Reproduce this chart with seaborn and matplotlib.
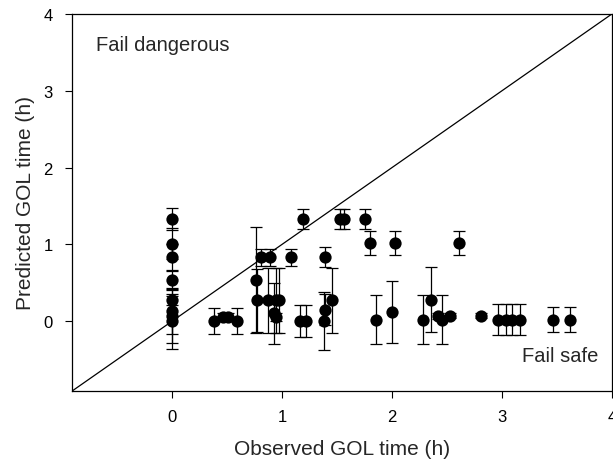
import matplotlib
matplotlib.use("Agg")
import matplotlib.pyplot as plt
import seaborn as sns
import pandas as pd

# Observed GOL time (h)
observed = [0, 0, 0, 0, 0, 0, 0, 0,
            0.38, 0.46, 0.51, 0.59,
            0.76, 0.77, 0.81, 0.89, 1.08, 0.875, 0.94, 0.97, 0.925, 0.945,
            1.19, 1.16, 1.22, 1.39, 1.38, 1.39, 1.45,
            1.53, 1.56, 1.75, 1.80, 2.03, 1.85, 2.00,
            2.28, 2.35, 2.42, 2.45, 2.53, 2.61, 2.81,
            2.96, 3.04, 3.09, 3.16, 3.46, 3.62]
# Predicted GOL time (h)
predicted = [1.33, 1.01, 0.83, 0.54, 0.27, 0.13, 0.07, 0.0,
             0.0, 0.06, 0.06, 0.0,
             0.54, 0.27, 0.83, 0.83, 0.83, 0.27, 0.27, 0.27, 0.10, 0.05,
             1.33, 0.0, 0.0, 0.83, 0.0, 0.15, 0.27,
             1.33, 1.33, 1.33, 1.02, 1.02, 0.02, 0.12,
             0.02, 0.28, 0.07, 0.02, 0.07, 1.02, 0.07,
             0.02, 0.02, 0.02, 0.02, 0.02, 0.02]
# Error (+/-)
error = [0.14, 0.20, 0.18, 0.13, 0.06, 0.30, 0.35, 0.36,
         0.17, 0.04, 0.04, 0.17,
         0.69, 0.41, 0.11, 0.11, 0.11, 0.42, 0.42, 0.42, 0.40, 0.05,
         0.13, 0.21, 0.21, 0.13, 0.38, 0.20, 0.42,
         0.13, 0.13, 0.13, 0.16, 0.16, 0.32, 0.40,
         0.32, 0.42, 0.04, 0.32, 0.03, 0.16, 0.03,
         0.20, 0.20, 0.20, 0.20, 0.16, 0.16]

df = pd.DataFrame({"obs": observed, "pred": predicted, "err": error})

sns.set_style("ticks")
plt.rcParams["font.family"] = ["Liberation Sans", "DejaVu Sans"]

fig = plt.figure(figsize=(6.13, 4.64), dpi=100)
ax = fig.add_axes([0.1175, 0.155, 0.881, 0.813])

ax.axline((0, 0), slope=1, color="black", lw=0.9, zorder=1)
ax.errorbar(df["obs"], df["pred"], yerr=df["err"], fmt="none",
            ecolor="black", elinewidth=0.9, capsize=4.3, capthick=0.9, zorder=2)
sns.scatterplot(data=df, x="obs", y="pred", ax=ax, color="black",
                s=78, edgecolor="black", linewidth=0, zorder=3, legend=False)

ax.set_xlim(-0.91, 4)
ax.set_ylim(-0.91, 4)
ax.set_xticks([0, 1, 2, 3, 4])
ax.set_yticks([0, 1, 2, 3, 4])
ax.tick_params(direction="out", length=5, width=0.8, labelsize=12, colors="black")
ax.tick_params(axis="x", pad=8)
ax.tick_params(axis="y", pad=9)
for s in ax.spines.values():
    s.set_visible(True)
    s.set_color("black")
    s.set_linewidth(0.9)

ax.set_xlabel("Observed GOL time (h)", fontsize=15, labelpad=11)
ax.set_ylabel("Predicted GOL time (h)", fontsize=15, labelpad=6)

ax.text(0.045, 0.918, "Fail dangerous", transform=ax.transAxes,
        fontsize=14.5, ha="left", va="center")
ax.text(0.975, 0.095, "Fail safe", transform=ax.transAxes,
        fontsize=14.5, ha="right", va="center")

fig.savefig("out.png", dpi=100)
